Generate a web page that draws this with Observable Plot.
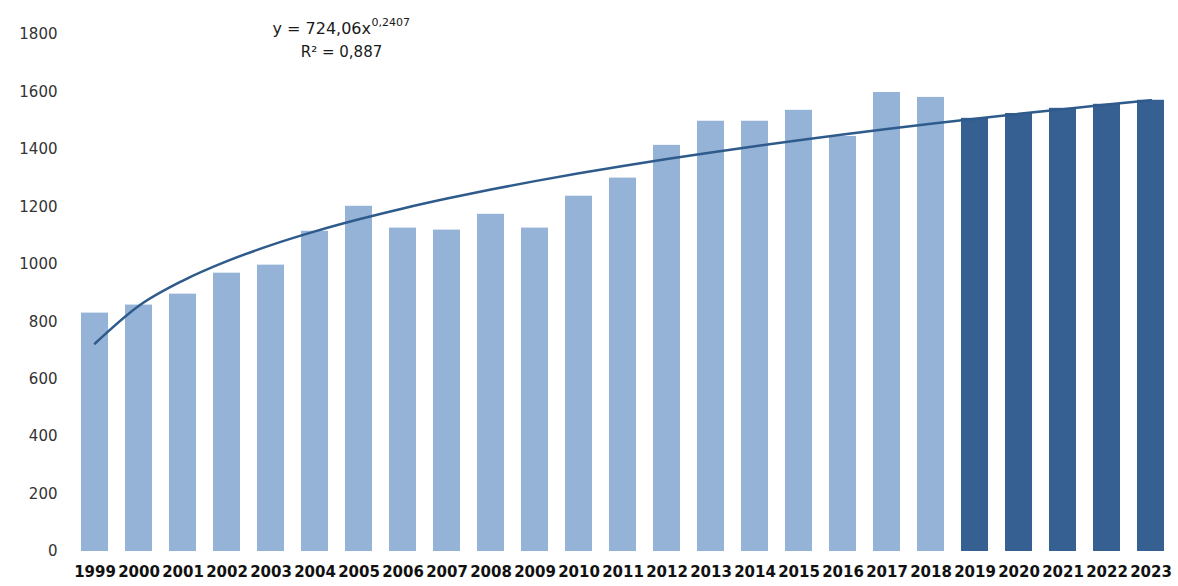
<!DOCTYPE html>
<html>
<head>
<meta charset="utf-8">
<script src="https://cdn.jsdelivr.net/npm/d3@7"></script>
<script src="https://cdn.jsdelivr.net/npm/@observablehq/plot@0.6"></script>
<style>
  html, body { margin: 0; padding: 0; background: #fff; }
  #chart svg { display: block; }
  #chart [aria-label="x-axis tick label"] text { font-weight: bold; }
</style>
</head>
<body>
<div id="chart"></div>
<script>
// Yearly values: 1999–2018 observed, 2019–2023 projected from the power trend
const years = ["1999", "2000", "2001", "2002", "2003", "2004", "2005", "2006", "2007", "2008",
               "2009", "2010", "2011", "2012", "2013", "2014", "2015", "2016", "2017", "2018",
               "2019", "2020", "2021", "2022", "2023"];
const values = [830, 858, 896, 969, 997, 1115, 1202, 1126, 1119, 1174,
                1126, 1237, 1300, 1414, 1498, 1498, 1536, 1445, 1598, 1581,
                1508, 1525, 1543, 1557, 1571];
const kinds = [
  "actual", "actual", "actual", "actual", "actual", "actual", "actual", "actual", "actual", "actual",
  "actual", "actual", "actual", "actual", "actual", "actual", "actual", "actual", "actual", "actual",
  "forecast", "forecast", "forecast", "forecast", "forecast"
];
const yTicks = [0, 200, 400, 600, 800, 1000, 1200, 1400, 1600, 1800];

// Power trend y = a · x^b (x = 1 for 1999), as printed on the chart
const trendA = 724.06;
const trendB = 0.2407;
const trendLabel = "y = 724,06x";
const trendExponentLabel = "0,2407";
const r2Label = "R² = 0,887";

const lightBlue = "#95b3d7";
const darkBlue = "#376092";
const trendColor = "#2f5b8c";

const rows = years.map((year, i) => ({year, value: values[i], kind: kinds[i]}));
const trendRows = years.map((year, i) => ({year, trend: trendA * Math.pow(i + 1, trendB)}));

const chart = Plot.plot({
  width: 1178,
  height: 586,
  marginLeft: 69,
  marginRight: 1,
  marginTop: 34,
  marginBottom: 35,
  style: {fontFamily: "DejaVu Sans", background: "#fff", color: "#1e1e1e"},
  x: {type: "band", domain: years, paddingInner: 0.38, paddingOuter: 0.19, label: null},
  y: {domain: [0, 1800], label: null},
  marks: [
    Plot.barY(rows, {x: "year", y: "value", fill: d => d.kind === "forecast" ? darkBlue : lightBlue}),
    Plot.line(trendRows, {x: "year", y: "trend", stroke: trendColor, strokeWidth: 2.5, curve: "monotone-x"}),
    Plot.axisY({ticks: yTicks, tickFormat: d => String(d), tickSize: 0, tickPadding: 12, fontSize: 15,
      label: null, fill: "#333"}),
    Plot.axisX({tickSize: 0, tickPadding: 15, fontSize: 15, label: null, fill: "#111"}),
    Plot.text([trendLabel], {frameAnchor: "top-left", text: d => d, textAnchor: "start", lineAnchor: "middle",
      dx: 203, dy: -6, fontSize: 16, fill: "#1a1a1a"}),
    Plot.text([trendExponentLabel], {frameAnchor: "top-left", text: d => d, textAnchor: "start", lineAnchor: "middle",
      dx: 302, dy: -12, fontSize: 11, fill: "#1a1a1a"}),
    Plot.text([r2Label], {frameAnchor: "top-left", text: d => d, textAnchor: "middle", lineAnchor: "middle",
      dx: 272, dy: 18, fontSize: 15, fill: "#1a1a1a"})
  ]
});

document.getElementById("chart").appendChild(chart);
</script>
</body>
</html>
